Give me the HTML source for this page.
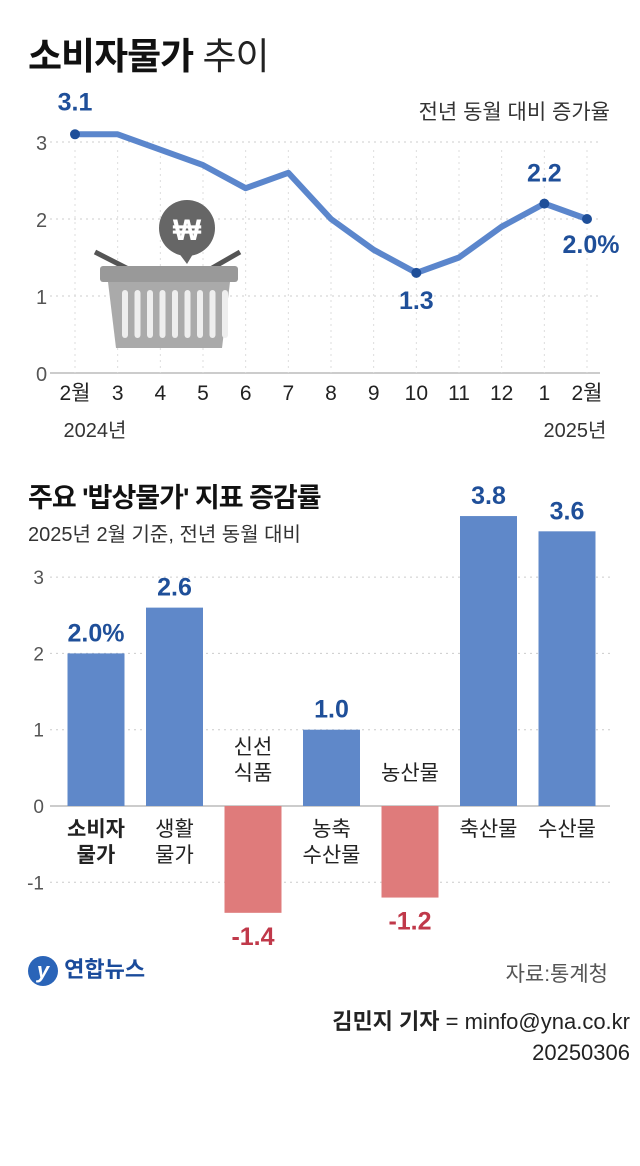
<!DOCTYPE html>
<html><head><meta charset="utf-8">
<style>
body{margin:0;background:#fff;}
#wrap{position:relative;width:640px;height:1166px;overflow:hidden;font-family:"Liberation Sans","Noto Sans CJK KR",sans-serif;}
.t{position:absolute;white-space:nowrap;}
</style></head>
<body>
<div id="wrap">
<div class="t" style="left:28px;top:26px;font-size:37px;font-weight:700;color:#111;letter-spacing:-1px">소비자물가 <span style="font-weight:400;color:#222">추이</span></div>
<div class="t" style="right:30px;top:96px;font-size:21px;color:#333">전년 동월 대비 증가율</div>
<svg id="topSvg" width="640" height="450" style="position:absolute;left:0;top:0"></svg>
<div class="t" style="left:28px;top:476px;font-size:27px;font-weight:700;color:#111;letter-spacing:-1px">주요 '밥상물가' 지표 증감률</div>
<div class="t" style="left:28px;top:518px;font-size:20px;color:#333">2025년 2월 기준, 전년 동월 대비</div>
<svg id="botSvg" width="640" height="500" style="position:absolute;left:0;top:460px"></svg>
<div class="t" style="left:28px;top:952px;font-size:22px;font-weight:700;color:#1a4b9b"><span style="display:inline-block;width:30px;height:30px;border-radius:50%;background:#2a64b8;color:#fff;text-align:center;line-height:30px;font-style:italic;vertical-align:middle">y</span> 연합뉴스</div>
<div class="t" style="right:32px;top:958px;font-size:21px;color:#555">자료:통계청</div>
<div class="t" style="right:10px;top:1004px;font-size:22px;color:#222"><b>김민지 기자</b> = minfo@yna.co.kr</div>
<div class="t" style="right:10px;top:1040px;font-size:22px;color:#222">20250306</div>
</div>
<script>
const NS="http://www.w3.org/2000/svg";
function mk(svg,tag,attrs,txt){const e=document.createElementNS(NS,tag);for(const k in attrs)e.setAttribute(k,attrs[k]);if(txt!==undefined)e.textContent=txt;svg.appendChild(e);return e;}
// top line chart data
const months=["2월","3","4","5","6","7","8","9","10","11","12","1","2월"];
const cpi=[3.1,3.1,2.9,2.7,2.4,2.6,2.0,1.6,1.3,1.5,1.9,2.2,2.0];
const yTicksTop=[0,1,2,3];
// bar chart data
const cats=[["소비자","물가"],["생활","물가"],["신선","식품"],["농축","수산물"],["농산물"],["축산물"],["수산물"]];
const vals=[2.0,2.6,-1.4,1.0,-1.2,3.8,3.6];
const yTicksBot=[-1,0,1,2,3];

const topSvg=document.getElementById('topSvg');
const tx=i=>75+i*(512/12), ty=v=>373-v*77;
yTicksTop.forEach(v=>{
 const l=mk(topSvg,'line',{x1:50,x2:600,y1:ty(v),y2:ty(v),stroke:'#ccc','stroke-dasharray':'2,4'});
 
 
 const t=mk(topSvg,'text',{x:36,y:ty(v)+8,'font-size':20,fill:'#555'},v);
 
 
});
const ax=mk(topSvg,'line',{x1:50,x2:600,y1:373,y2:373,stroke:'#999'});


months.forEach((m,i)=>{
 const l=mk(topSvg,'line',{x1:tx(i),x2:tx(i),y1:150,y2:373,stroke:'#ddd','stroke-dasharray':'2,4'});
 
 
 const t=mk(topSvg,'text',{x:tx(i),y:400,'font-size':21,fill:'#222','text-anchor':'middle'},m);
 
 
});
const yl1=mk(topSvg,'text',{x:95,y:437,'font-size':20,fill:'#333','text-anchor':'middle'},'2024년');


const yl2=mk(topSvg,'text',{x:575,y:437,'font-size':20,fill:'#333','text-anchor':'middle'},'2025년');


// basket
const bk=mk(topSvg,'g',{});


mk(bk,'circle',{cx:187,cy:228,r:28,fill:'#666'});
mk(bk,'path',{d:'M178,252 L187,264 L193,254 Z',fill:'#666'});
mk(bk,'text',{x:187,y:240,'font-size':30,'font-weight':700,fill:'#fff','text-anchor':'middle'},'₩');
mk(bk,'path',{d:'M95,252 L140,275 M240,252 L200,275',stroke:'#555','stroke-width':5,fill:'none'});
mk(bk,'rect',{x:100,y:266,width:138,height:16,rx:3,fill:'#999'});
mk(bk,'path',{d:'M108,282 L230,282 L222,348 L116,348 Z',fill:'#aaa'});
for(let k=0;k<9;k++)mk(bk,'rect',{x:122+k*12.5,y:290,width:6,height:48,rx:3,fill:'#eee'});
const pl=mk(topSvg,'polyline',{points:cpi.map((v,i)=>tx(i)+','+ty(v)).join(' '),fill:'none',stroke:'#5b86cc','stroke-width':6,'stroke-linejoin':'round'});


const marked=[0,8,11,12];
const labOff={0:[0,-24],8:[0,36],11:[0,-22],12:[4,34]};
marked.forEach(i=>{
 const c=mk(topSvg,'circle',{cx:tx(i),cy:ty(cpi[i]),r:5,fill:'#1f4f99'});
 
 
 const t=mk(topSvg,'text',{x:tx(i)+labOff[i][0],y:ty(cpi[i])+labOff[i][1],'font-size':25,'font-weight':700,fill:'#1f4f99','text-anchor':'middle'},cpi[i].toFixed(1)+(i==12?'%':''));
 
 
});

const botSvg=document.getElementById('botSvg');
const bx=i=>96+i*78.5, by=v=>346-v*76.3;
yTicksBot.forEach(v=>{
 const l=mk(botSvg,'line',{x1:50,x2:610,y1:by(v),y2:by(v),stroke:v==0?'#999':'#ccc','stroke-dasharray':v==0?'':'2,4'});
 
 
 const t=mk(botSvg,'text',{x:44,y:by(v)+7,'font-size':19,fill:'#555','text-anchor':'end'},v);
 
 
});
vals.forEach((v,i)=>{
 const pos=v>=0;
 const r=mk(botSvg,'rect',{x:bx(i)-28.5,y:pos?by(v):by(0),width:57,height:Math.abs(v)*76.3,fill:pos?'#5f88c9':'#df7b7b'});
 
 
 const lab=mk(botSvg,'text',{x:bx(i),y:pos?by(v)-12:by(v)+32,'font-size':25,'font-weight':700,fill:pos?'#1f4f99':'#c0394a','text-anchor':'middle'},v.toFixed(1)+(i==0?'%':''));
 
 
 const lines=cats[i];
 const baseY=pos?by(0)+30:by(0)-52+(lines.length==1?26:0);
 lines.forEach((s,k)=>{
  const t=mk(botSvg,'text',{x:bx(i),y:baseY+k*26,'font-size':21,'font-weight':i==0?700:400,fill:'#222','text-anchor':'middle'},s);
  
  
 });
});
</script>
</body></html>
